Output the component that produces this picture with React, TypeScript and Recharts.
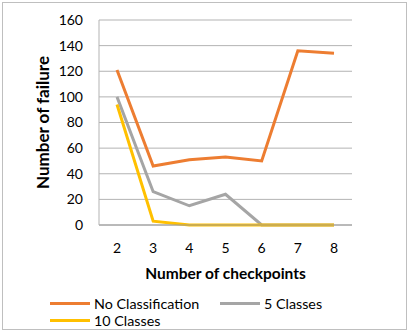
import React from "react";
import {
  LineChart,
  Line,
  XAxis,
  YAxis,
  CartesianGrid,
  Legend,
} from "recharts";

// Number of checkpoints on the x axis
const checkpoints = ["2", "3", "4", "5", "6", "7", "8"];

// Failures per configuration
const noClassification = [121, 46, 51, 53, 50, 136, 134];
const fiveClasses = [100, 26, 15, 24, 0, 0, 0];
const tenClasses = [94, 3, 0, 0, 0, 0, 0];

const yTicks = [0, 20, 40, 60, 80, 100, 120, 140, 160];

const seriesInfo = [
  { key: "noClass", name: "No Classification", color: "#ED7D31" },
  { key: "five", name: "5 Classes", color: "#A5A5A5" },
  { key: "ten", name: "10 Classes", color: "#FFC000" },
];

const data = checkpoints.map((c, i) => ({
  checkpoint: c,
  noClass: noClassification[i],
  five: fiveClasses[i],
  ten: tenClasses[i],
}));

const FONT = "Lato, 'Open Sans', sans-serif";

// Two-row legend: first two entries on one row, the third below
const LegendBox = () => {
  const slots = [
    { left: 50, top: 20 },
    { left: 220, top: 20 },
    { left: 50, top: 37 },
  ];
  return (
    <div style={{ position: "relative", width: 408, height: 42, fontFamily: FONT }}>
      {seriesInfo.map((s, i) => (
        <div
          key={s.key}
          style={{
            position: "absolute",
            left: slots[i].left,
            top: slots[i].top,
            display: "flex",
            alignItems: "center",
            height: 16,
            transform: "translateY(-50%)",
          }}
        >
          <div style={{ width: 40, height: 3, background: s.color }} />
          <span style={{ marginLeft: 4, fontSize: 14.3, color: "#000", whiteSpace: "nowrap" }}>
            {s.name}
          </span>
        </div>
      ))}
    </div>
  );
};

export default function App() {
  return (
    <div style={{ position: "absolute", left: 0, top: 0, width: 408, height: 330, background: "#fff" }}>
      <div
        style={{
          position: "absolute",
          left: 2,
          top: 2,
          width: 405,
          height: 328,
          boxSizing: "border-box",
          border: "1px solid #bfbfbf",
        }}
      />
      <LineChart
        width={408}
        height={330}
        data={data}
        margin={{ top: 20, right: 56, left: 0, bottom: 5 }}
        style={{ fontFamily: FONT }}
      >
        <CartesianGrid vertical={false} stroke="#b3b3b3" strokeWidth={1} />
        <XAxis
          dataKey="checkpoint"
          height={58}
          padding={{ left: 18, right: 18 }}
          tickLine={false}
          tickSize={0}
          tickMargin={18}
          axisLine={{ stroke: "#9a9a9a" }}
          tick={{ fill: "#000", fontSize: 14 }}
          label={{
            value: "Number of checkpoints",
            position: "insideBottom",
            offset: 4,
            style: { fontWeight: 700, fontSize: 15.5, fill: "#000" },
          }}
        />
        <YAxis
          width={99}
          domain={[0, 160]}
          ticks={yTicks}
          interval={0}
          tickLine={false}
          tickSize={0}
          tickMargin={16}
          axisLine={{ stroke: "#b3b3b3" }}
          tick={{ fill: "#000", fontSize: 14 }}
          label={{
            value: "Number of failure",
            angle: -90,
            position: "insideLeft",
            offset: 43,
            style: { fontWeight: 700, fontSize: 17, fill: "#000", textAnchor: "middle" },
          }}
        />
        <Legend
          verticalAlign="bottom"
          content={<LegendBox />}
          wrapperStyle={{ left: 0, width: 408, height: 42 }}
        />
        {seriesInfo.map((s) => (
          <Line
            key={s.key}
            type="linear"
            dataKey={s.key}
            name={s.name}
            stroke={s.color}
            strokeWidth={3}
            dot={false}
            activeDot={false}
            isAnimationActive={false}
          />
        ))}
      </LineChart>
    </div>
  );
}
